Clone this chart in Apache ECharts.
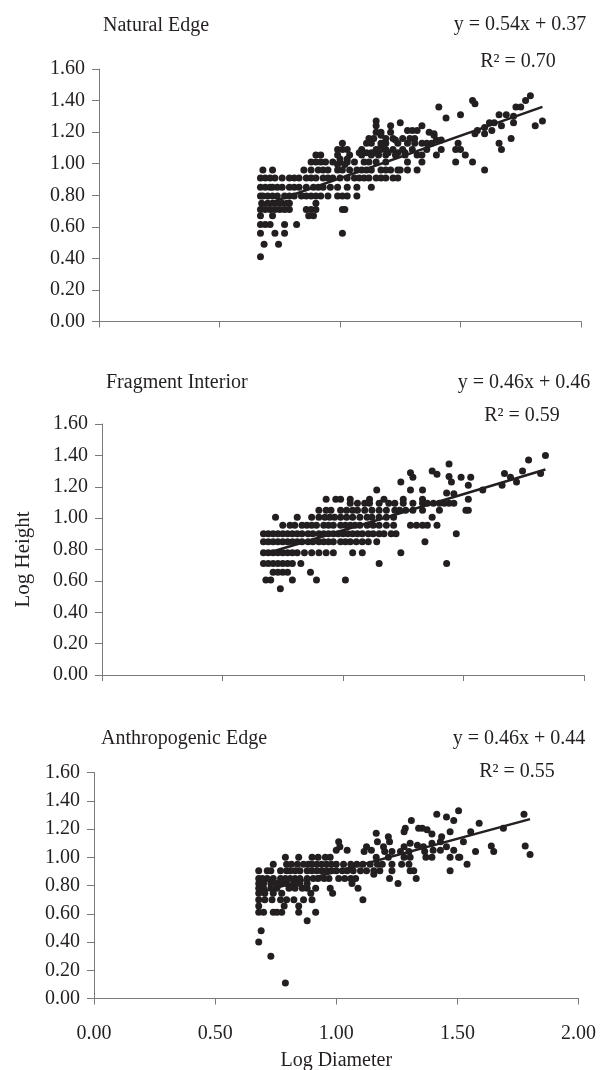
<!DOCTYPE html>
<html>
<head>
<meta charset="utf-8">
<script src="https://cdn.jsdelivr.net/npm/echarts@6/dist/echarts.min.js"></script>
<style>
html,body{margin:0;padding:0;background:#fff;}
#chart{width:600px;height:1070px;}
</style>
</head>
<body>
<div id="chart"></div>
<script>
// ---------- data (log diameter, log height) ----------
const panelTitles = ['Natural Edge', 'Fragment Interior', 'Anthropogenic Edge'];
const equations = ['y = 0.54x + 0.37', 'y = 0.46x + 0.46', 'y = 0.46x + 0.44'];
const rSquared = ['R² = 0.70', 'R² = 0.59', 'R² = 0.55'];
const xTicks = [0, 0.5, 1, 1.5, 2];
const yTicks = [0, 0.2, 0.4, 0.6, 0.8, 1.0, 1.2, 1.4, 1.6];

const naturalEdge = [
 [1.79,1.43],[1.77,1.40],[1.55,1.40],[1.56,1.38],[1.41,1.36],[1.73,1.36],[1.75,1.36],
 [1.50,1.31],[1.66,1.31],[1.69,1.31],[1.72,1.30],[1.44,1.29],[1.15,1.27],[1.84,1.27],
 [1.25,1.26],[1.62,1.26],[1.64,1.26],[1.72,1.26],
 [1.15,1.24],[1.21,1.24],[1.34,1.24],[1.67,1.24],[1.81,1.24],[1.60,1.23],
 [1.28,1.21],[1.30,1.21],[1.32,1.21],[1.57,1.21],[1.63,1.21],
 [1.15,1.20],[1.17,1.20],[1.21,1.20],[1.37,1.20],[1.56,1.19],[1.60,1.19],[1.39,1.19],
 [1.17,1.18],[1.39,1.18],
 [1.12,1.16],[1.14,1.16],[1.19,1.16],[1.22,1.16],[1.26,1.16],[1.29,1.16],[1.31,1.16],[1.71,1.16],
 [1.23,1.15],[1.40,1.15],[1.42,1.15],
 [1.01,1.13],[1.11,1.13],[1.13,1.13],[1.17,1.13],[1.19,1.13],[1.24,1.13],[1.28,1.13],[1.31,1.13],
 [1.34,1.13],[1.36,1.13],[1.38,1.13],[1.49,1.13],[1.66,1.13],[1.17,1.11],
 [0.99,1.09],[1.01,1.09],[1.03,1.09],[1.09,1.09],[1.15,1.09],[1.17,1.09],[1.19,1.09],[1.22,1.09],
 [1.26,1.09],[1.30,1.09],[1.36,1.09],[1.42,1.09],[1.48,1.09],[1.50,1.09],[1.67,1.09],
 [1.08,1.07],[1.11,1.07],[1.13,1.07],[1.15,1.07],[1.20,1.07],[1.24,1.07],[1.27,1.07],
 [0.90,1.055],[0.92,1.055],[0.99,1.055],[1.04,1.055],[1.09,1.055],[1.13,1.055],[1.16,1.055],
 [1.19,1.055],[1.23,1.055],[1.27,1.055],[1.32,1.055],[1.34,1.055],[1.40,1.055],[1.52,1.055],
 [1.00,1.03],[1.03,1.03],
 [0.88,1.01],[0.90,1.01],[0.92,1.01],[0.94,1.01],[0.97,1.01],[1.00,1.01],[1.03,1.01],[1.06,1.01],
 [1.10,1.01],[1.12,1.01],[1.15,1.01],[1.19,1.01],[1.28,1.01],[1.34,1.01],[1.48,1.01],[1.55,1.01],
 [0.99,0.995],[1.02,0.995],
 [0.68,0.96],[0.72,0.96],[0.85,0.96],[0.88,0.96],[0.91,0.96],[0.93,0.96],[0.95,0.96],[0.99,0.96],
 [1.01,0.96],[1.04,0.96],[1.07,0.96],[1.09,0.96],[1.11,0.96],[1.13,0.96],[1.17,0.96],[1.19,0.96],
 [1.21,0.96],[1.24,0.96],[1.25,0.96],[1.28,0.96],[1.32,0.96],[1.60,0.96],
 [0.67,0.91],[0.69,0.91],[0.71,0.91],[0.73,0.91],[0.76,0.91],[0.79,0.91],[0.81,0.91],[0.83,0.91],
 [0.86,0.91],[0.88,0.91],[0.90,0.91],[0.93,0.91],[0.95,0.91],[0.97,0.91],[1.00,0.91],[1.03,0.91],
 [1.06,0.91],[1.08,0.91],[1.10,0.91],[1.12,0.91],[1.15,0.91],[1.17,0.91],[1.19,0.91],[1.22,0.91],[1.24,0.91],
 [0.67,0.85],[0.69,0.85],[0.71,0.85],[0.72,0.85],[0.74,0.85],[0.76,0.85],[0.79,0.85],[0.81,0.85],
 [0.83,0.85],[0.86,0.85],[0.89,0.85],[0.91,0.85],[0.93,0.85],[0.96,0.85],[0.99,0.85],[1.03,0.85],[1.07,0.85],[1.13,0.85],
 [0.67,0.795],[0.68,0.795],[0.70,0.795],[0.72,0.795],[0.74,0.795],[0.77,0.795],[0.79,0.795],[0.81,0.795],
 [0.84,0.795],[0.86,0.795],[0.88,0.795],[0.90,0.795],[0.92,0.795],[0.95,0.795],[0.99,0.795],[1.01,0.795],[1.03,0.795],[1.07,0.795],
 [0.675,0.75],[0.70,0.75],[0.72,0.75],[0.74,0.75],[0.76,0.75],[0.78,0.75],[0.79,0.75],[0.90,0.75],
 [0.67,0.71],[0.69,0.71],[0.71,0.71],[0.73,0.71],[0.75,0.71],[0.77,0.71],[0.79,0.71],[0.86,0.71],
 [0.88,0.71],[0.90,0.71],[1.01,0.71],[1.02,0.71],
 [0.67,0.67],[0.72,0.67],[0.87,0.67],[0.89,0.67],
 [0.67,0.615],[0.69,0.615],[0.71,0.615],[0.77,0.615],[0.82,0.615],
 [0.67,0.56],[0.73,0.56],[0.77,0.56],[1.01,0.56],
 [0.685,0.49],[0.745,0.49],[0.67,0.41]
];

const fragmentInterior = [
 [1.84,1.40],[1.77,1.37],[1.44,1.345],[1.745,1.30],[1.37,1.30],[1.28,1.29],[1.67,1.285],[1.82,1.285],
 [1.39,1.28],[1.29,1.26],[1.44,1.265],[1.49,1.26],[1.53,1.26],[1.695,1.26],[1.24,1.23],[1.45,1.23],
 [1.72,1.23],[1.66,1.21],[1.52,1.21],[1.28,1.18],[1.33,1.18],[1.58,1.18],[1.14,1.18],[1.43,1.16],[1.46,1.155],
 [0.93,1.12],[0.97,1.12],[0.99,1.12],[1.03,1.12],[1.11,1.12],[1.17,1.12],[1.25,1.12],[1.33,1.12],[1.52,1.12],
 [1.03,1.095],[1.06,1.095],[1.09,1.095],[1.11,1.095],[1.15,1.095],[1.19,1.095],[1.215,1.095],[1.25,1.095],
 [1.29,1.095],[1.33,1.095],[1.35,1.095],[1.375,1.095],[1.40,1.095],[1.42,1.095],[1.44,1.095],[1.46,1.095],
 [0.90,1.05],[0.93,1.05],[0.95,1.05],[0.99,1.05],[1.015,1.05],[1.04,1.05],[1.06,1.05],[1.09,1.05],
 [1.12,1.05],[1.15,1.05],[1.18,1.05],[1.215,1.05],[1.235,1.05],[1.26,1.05],[1.29,1.05],[1.33,1.05],
 [1.40,1.05],[1.51,1.05],[1.52,1.05],
 [0.72,1.005],[0.81,1.005],[0.87,1.005],[0.90,1.005],[0.925,1.005],[0.945,1.005],[0.965,1.005],[0.99,1.005],
 [1.015,1.005],[1.04,1.005],[1.07,1.005],[1.10,1.005],[1.12,1.005],[1.15,1.005],[1.18,1.005],[1.21,1.005],[1.37,1.005],
 [0.75,0.955],[0.78,0.955],[0.80,0.955],[0.83,0.955],[0.85,0.955],[0.87,0.955],[0.89,0.955],[0.92,0.955],
 [0.94,0.955],[0.96,0.955],[0.99,0.955],[1.01,0.955],[1.03,0.955],[1.05,0.955],[1.07,0.955],[1.10,0.955],
 [1.125,0.955],[1.15,0.955],[1.18,0.955],[1.21,0.955],[1.28,0.955],[1.305,0.955],[1.33,0.955],[1.35,0.955],[1.39,0.955],
 [0.67,0.90],[0.69,0.90],[0.71,0.90],[0.73,0.90],[0.75,0.90],[0.77,0.90],[0.79,0.90],[0.81,0.90],
 [0.83,0.90],[0.855,0.90],[0.875,0.90],[0.90,0.90],[0.92,0.90],[0.94,0.90],[0.96,0.90],[0.98,0.90],
 [1.00,0.90],[1.02,0.90],[1.04,0.90],[1.06,0.90],[1.08,0.90],[1.105,0.90],[1.125,0.90],[1.15,0.90],
 [1.17,0.90],[1.20,0.90],[1.22,0.90],[1.47,0.90],
 [0.67,0.85],[0.69,0.85],[0.71,0.85],[0.73,0.85],[0.75,0.85],[0.77,0.85],[0.79,0.85],[0.81,0.85],
 [0.83,0.85],[0.855,0.85],[0.875,0.85],[0.90,0.85],[0.92,0.85],[0.94,0.85],[0.96,0.85],[0.99,0.85],
 [1.01,0.85],[1.03,0.85],[1.055,0.85],[1.08,0.85],[1.105,0.85],[1.14,0.85],[1.34,0.85],
 [0.67,0.78],[0.69,0.78],[0.71,0.78],[0.73,0.78],[0.75,0.78],[0.77,0.78],[0.79,0.78],[0.81,0.78],
 [0.84,0.78],[0.87,0.78],[0.90,0.78],[0.93,0.78],[0.96,0.78],[1.04,0.78],[1.08,0.78],[1.24,0.78],
 [0.67,0.71],[0.69,0.71],[0.71,0.71],[0.73,0.71],[0.75,0.71],[0.77,0.71],[0.79,0.71],[0.825,0.71],[1.15,0.71],[1.43,0.71],
 [0.71,0.655],[0.73,0.655],[0.75,0.655],[0.77,0.655],[0.865,0.655],
 [0.68,0.605],[0.70,0.605],[0.79,0.605],[0.89,0.605],[1.01,0.605],[0.74,0.55]
];

const anthropogenicEdge = [
 [0.79,0.11],[0.73,0.30],[0.68,0.40],[0.69,0.48],[0.88,0.55],
 [0.68,0.61],[0.70,0.61],[0.74,0.61],[0.755,0.61],[0.775,0.61],[0.845,0.61],[0.915,0.61],
 [0.68,0.655],[0.785,0.655],[0.845,0.655],
 [0.68,0.70],[0.705,0.70],[0.735,0.70],[0.77,0.70],[0.795,0.70],[0.825,0.70],[0.865,0.70],[0.90,0.70],[1.11,0.70],
 [0.68,0.745],[0.705,0.745],[0.74,0.745],[0.775,0.745],[0.895,0.745],[0.985,0.745],
 [0.68,0.78],[0.70,0.78],[0.73,0.78],[0.755,0.78],[0.805,0.78],[0.83,0.78],[0.86,0.78],[0.88,0.78],
 [0.915,0.78],[0.975,0.78],[1.09,0.78],
 [0.68,0.815],[0.70,0.815],[0.73,0.815],[0.755,0.815],[0.775,0.815],[0.795,0.815],[0.825,0.815],
 [0.85,0.815],[0.88,0.815],[1.065,0.815],[1.255,0.815],
 [0.68,0.85],[0.695,0.85],[0.715,0.85],[0.74,0.85],[0.77,0.85],[0.79,0.85],[0.81,0.85],[0.83,0.85],
 [0.85,0.85],[0.88,0.85],[0.905,0.85],[0.925,0.85],[0.95,0.85],[0.97,0.85],[1.01,0.85],[1.035,0.85],
 [1.06,0.85],[1.08,0.85],[1.22,0.85],[1.33,0.85],
 [1.155,0.88],
 [0.68,0.905],[0.715,0.905],[0.73,0.905],[0.77,0.905],[0.795,0.905],[0.81,0.905],[0.83,0.905],[0.85,0.905],
 [0.88,0.905],[0.90,0.905],[0.92,0.905],[0.94,0.905],[0.96,0.905],[0.98,0.905],[1.00,0.905],[1.025,0.905],
 [1.045,0.905],[1.07,0.905],[1.10,0.905],[1.125,0.905],[1.155,0.905],[1.18,0.905],[1.23,0.905],[1.305,0.905],
 [1.32,0.905],[1.47,0.905],
 [0.74,0.95],[0.795,0.95],[0.815,0.95],[0.84,0.95],[0.865,0.95],[0.885,0.95],[0.90,0.95],[0.92,0.95],
 [0.94,0.95],[0.96,0.95],[0.98,0.95],[1.00,0.95],[1.03,0.95],[1.06,0.95],[1.085,0.95],[1.11,0.95],
 [1.14,0.95],[1.17,0.95],[1.19,0.95],[1.23,0.95],[1.27,0.95],[1.30,0.95],[1.54,0.95],
 [0.79,1.00],[0.845,1.00],[0.90,1.00],[0.925,1.00],[0.955,1.00],[0.975,1.00],[1.165,1.00],[1.215,1.00],
 [1.28,1.00],[1.305,1.00],[1.37,1.00],[1.395,1.00],[1.47,1.00],[1.505,1.00],[1.51,1.00],
 [1.80,1.02],[1.115,1.04],[1.20,1.04],[1.23,1.04],[1.265,1.04],[1.30,1.04],[1.365,1.04],[1.575,1.04],[1.65,1.04],
 [1.00,1.05],[1.045,1.05],[1.145,1.05],[1.40,1.05],[1.43,1.05],[1.485,1.05],
 [1.015,1.075],[1.125,1.075],[1.195,1.075],[1.28,1.075],[1.36,1.075],[1.455,1.075],[1.64,1.08],[1.78,1.08],
 [1.335,1.085],[1.305,1.10],[1.395,1.10],
 [1.01,1.11],[1.17,1.11],[1.22,1.11],[1.43,1.11],[1.525,1.11],
 [1.215,1.145],[1.435,1.145],[1.395,1.165],[1.165,1.17],
 [1.28,1.18],[1.47,1.18],[1.555,1.18],[1.375,1.195],[1.285,1.205],[1.34,1.205],[1.355,1.205],[1.69,1.205],
 [1.59,1.24],[1.31,1.26],[1.485,1.26],[1.455,1.285],[1.415,1.305],[1.775,1.305],[1.505,1.33]
];

const naturalTrend = [[0.67, 0.73], [1.84, 1.36]];
const fragmentTrend = [[0.67, 0.77], [1.84, 1.31]];
const anthropogenicTrend = [[0.68, 0.75], [1.80, 1.27]];

// ---------- layout ----------
const FONT = '"Liberation Serif", "Times New Roman", serif';
const INK = '#231f20';
const AXIS = '#7a7a7a';
const grids = [
  {left: 99, top: 69, width: 482, height: 252.5},
  {left: 102, top: 424, width: 482, height: 251},
  {left: 94, top: 772.5, width: 484.5, height: 226}
];
const panelData = [naturalEdge, fragmentInterior, anthropogenicEdge];
const trends = [naturalTrend, fragmentTrend, anthropogenicTrend];
const titlePos = [[103, 26], [106, 383], [101, 739]];
const eqPos = [[520, 25], [524, 383], [519, 739]];
const r2Pos = [[518, 62], [522, 416], [517, 772]];

const option = {
  animation: false,
  backgroundColor: '#fff',
  grid: grids.map(g => Object.assign({containLabel: false, outerBoundsMode: 'none'}, g)),
  xAxis: grids.map((g, i) => ({
    type: 'value', gridIndex: i, min: xTicks[0], max: xTicks[xTicks.length - 1], interval: 0.5,
    axisLine: {show: true, onZero: false, lineStyle: {color: AXIS, width: 1}},
    axisTick: {show: true, length: 6, lineStyle: {color: AXIS, width: 1}},
    splitLine: {show: false},
    axisLabel: {show: i === 2, margin: 25, color: INK, fontFamily: FONT, fontSize: 20,
      formatter: v => v.toFixed(2)},
    name: i === 2 ? 'Log Diameter' : '', nameLocation: 'middle', nameGap: 52,
    nameTextStyle: {color: INK, fontFamily: FONT, fontSize: 20}
  })),
  yAxis: grids.map((g, i) => ({
    type: 'value', gridIndex: i, min: yTicks[0], max: yTicks[yTicks.length - 1], interval: 0.2,
    axisLine: {show: true, onZero: false, lineStyle: {color: AXIS, width: 1}},
    axisTick: {show: true, length: 7, lineStyle: {color: AXIS, width: 1}},
    splitLine: {show: false},
    axisLabel: {margin: 14, color: INK, fontFamily: FONT, fontSize: 20,
      formatter: v => v.toFixed(2)},
    name: i === 1 ? 'Log Height' : '', nameLocation: 'middle', nameGap: 68, nameRotate: 90,
    nameTextStyle: {color: INK, fontFamily: FONT, fontSize: 21, padding: [0, 20, 0, 0]}
  })),
  series: [].concat(
    panelData.map((d, i) => ({
      type: 'scatter', xAxisIndex: i, yAxisIndex: i, data: d,
      symbol: 'circle', symbolSize: 7, itemStyle: {color: INK, opacity: 1},
      silent: true, z: 2
    })),
    trends.map((d, i) => ({
      type: 'line', xAxisIndex: i, yAxisIndex: i, data: d, showSymbol: false, symbol: 'none',
      lineStyle: {color: INK, width: 2.5}, silent: true, z: 3
    }))
  ),
  graphic: [].concat(
    panelTitles.map((t, i) => ({type: 'text', x: titlePos[i][0], y: titlePos[i][1],
      style: {text: t, fill: INK, font: '20px ' + FONT, align: 'left', verticalAlign: 'middle',
        textAlign: 'left', textVerticalAlign: 'middle'}})),
    equations.map((t, i) => ({type: 'text', x: eqPos[i][0], y: eqPos[i][1],
      style: {text: t, fill: INK, font: '20px ' + FONT, align: 'center', verticalAlign: 'middle',
        textAlign: 'center', textVerticalAlign: 'middle'}})),
    rSquared.map((t, i) => ({type: 'text', x: r2Pos[i][0], y: r2Pos[i][1],
      style: {text: t, fill: INK, font: '20px ' + FONT, align: 'center', verticalAlign: 'middle',
        textAlign: 'center', textVerticalAlign: 'middle'}}))
  )
};

const chart = echarts.init(document.getElementById('chart'), null, {renderer: 'canvas', width: 600, height: 1070});
chart.setOption(option);
</script>
</body>
</html>
